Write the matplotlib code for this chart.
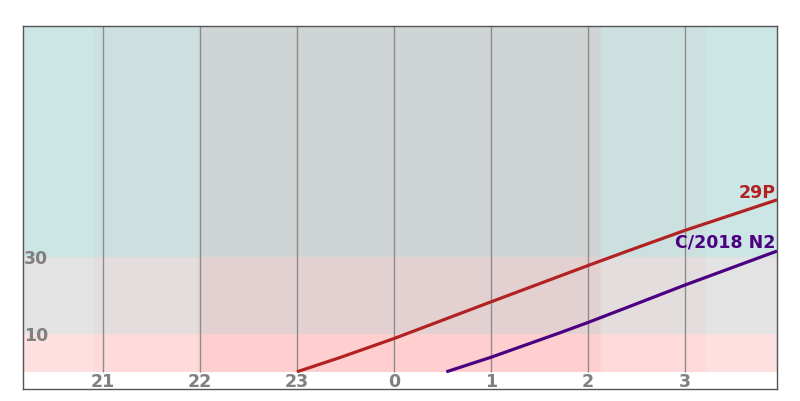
import numpy as np
import matplotlib.pyplot as plt

# hours after midnight are written as 24+h so the axis stays continuous
hour_ticks = [21, 22, 23, 24, 25, 26, 27]
hour_labels = ["21", "22", "23", "0", "1", "2", "3"]

alt_ticks = [10, 30]

names = ["29P", "C/2018 N2"]
t_29p = [23.0, 23.44, 24.0, 25.0, 26.0, 26.43, 27.0, 27.95]
alt_29p = [0.0, 3.7, 8.7, 18.3, 27.8, 31.8, 37.0, 45.0]
t_n2 = [24.54, 25.0, 25.71, 26.0, 26.43, 27.0, 27.95]
alt_n2 = [0.0, 3.8, 10.2, 12.9, 17.1, 22.7, 31.6]

# twilight limits (start, end)
night_spans = [(20.9, 27.22), (21.97, 26.15), (22.0, 26.12)]

x0, x1 = 20.175, 27.95
y0, y1 = -4.5, 90.5

fig = plt.figure(figsize=(8, 4.02), dpi=100)
ax = fig.add_axes([23 / 800, 12 / 402, 754 / 800, 363 / 402])

# altitude bands
ax.axhspan(30, y1, color="#cce6e6", lw=0, zorder=0)
ax.axhspan(10, 30, color="#e3e3e3", lw=0, zorder=0)
ax.axhspan(0, 10, color="#ffe0e0", lw=0, zorder=0)

for a, b in night_spans:
    ax.fill_between([a, b], 0, y1, color="red", alpha=0.025, lw=0, zorder=1)

ax.vlines(hour_ticks, 0, y1, color="#8c8c8c", lw=1, zorder=2)

ax.plot(t_29p, alt_29p, color="#b22222", lw=2.3, solid_capstyle="butt",
        solid_joinstyle="round", zorder=3)
ax.plot(t_n2, alt_n2, color="#4b0082", lw=2.3, solid_capstyle="butt",
        solid_joinstyle="round", zorder=3)

txt = dict(color="#808080", fontsize=12.5, fontweight="bold")
for h, lab in zip(hour_ticks, hour_labels):
    ax.text(h, -3.75, lab, ha="center", va="baseline", zorder=4, **txt)
for a in alt_ticks:
    ax.text(x0 + 0.01, a - 1.6, str(a), ha="left", va="baseline", zorder=4, **txt)

ax.text(x1 - 0.015, 45.8, names[0], color="#b22222", fontsize=12.5,
        fontweight="bold", ha="right", va="baseline", zorder=4)
ax.text(x1 - 0.015, 32.7, names[1], color="#4b0082", fontsize=12.5,
        fontweight="bold", ha="right", va="baseline", zorder=4)

ax.set_xlim(x0, x1)
ax.set_ylim(y0, y1)
ax.set_xticks([])
ax.set_yticks([])
for s in ax.spines.values():
    s.set_color("#555555")
    s.set_linewidth(1)

fig.savefig("out.png")
